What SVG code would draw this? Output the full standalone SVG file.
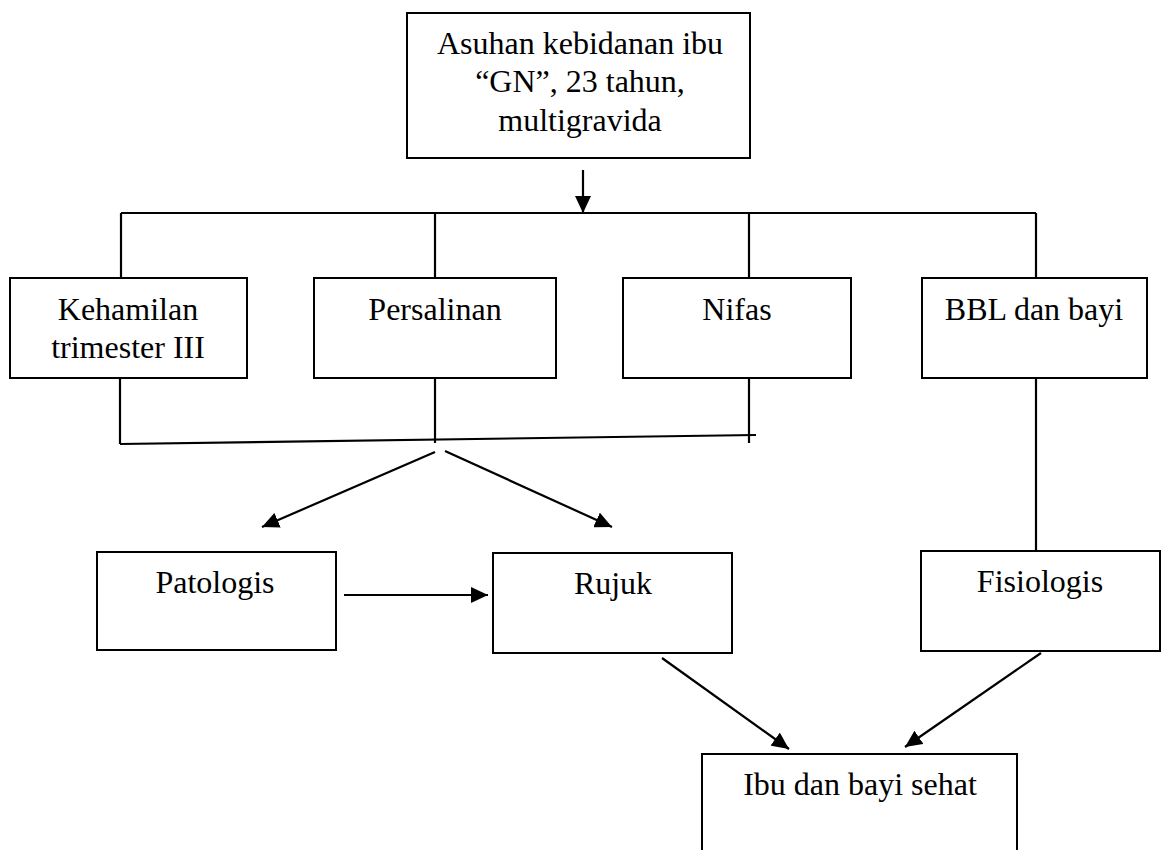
<svg xmlns="http://www.w3.org/2000/svg" width="1168" height="850" viewBox="0 0 1168 850">
<style>
.box{fill:#fff;stroke:#000;stroke-width:2}
.t{font-family:"Liberation Serif","Times New Roman",serif;font-size:32px;fill:#000;text-anchor:middle}
.ln{stroke:#000;stroke-width:2.2;fill:none}
</style>
<defs>
<marker id="ah" markerWidth="17" markerHeight="16" refX="17" refY="8" orient="auto" markerUnits="userSpaceOnUse">
<path d="M0,0 L17,8 L0,16 Z" fill="#000"/>
</marker>
</defs>
<rect width="1168" height="850" fill="#fff"/>
<g id="connectors">
<line class="ln" x1="583" y1="170" x2="583" y2="213" marker-end="url(#ah)"/>
<line class="ln" x1="121" y1="213" x2="1036" y2="213"/>
<line class="ln" x1="121" y1="213" x2="121" y2="278"/>
<line class="ln" x1="435" y1="213" x2="435" y2="278"/>
<line class="ln" x1="749" y1="213" x2="749" y2="278"/>
<line class="ln" x1="1036" y1="213" x2="1036" y2="278"/>
<line class="ln" x1="120" y1="378" x2="120" y2="444"/>
<line class="ln" x1="435" y1="378" x2="435" y2="443"/>
<line class="ln" x1="749" y1="378" x2="749" y2="443"/>
<line class="ln" x1="120" y1="444" x2="756" y2="435"/>
<line class="ln" x1="435" y1="452" x2="262" y2="527" marker-end="url(#ah)"/>
<line class="ln" x1="445" y1="451" x2="612" y2="527" marker-end="url(#ah)"/>
<line class="ln" x1="1036" y1="378" x2="1036" y2="551"/>
<line class="ln" x1="344" y1="595" x2="488" y2="595" marker-end="url(#ah)"/>
<line class="ln" x1="662" y1="658" x2="789" y2="749" marker-end="url(#ah)"/>
<line class="ln" x1="1041" y1="653" x2="905" y2="747" marker-end="url(#ah)"/>
</g>
<g id="node-asuhan">
<rect class="box" x="407" y="13" width="343" height="145"/>
<text class="t" x="580" y="54">Asuhan kebidanan ibu</text>
<text class="t" x="580" y="92">“GN”, 23 tahun,</text>
<text class="t" x="580" y="131">multigravida</text>
</g>
<g id="node-kehamilan">
<rect class="box" x="10" y="278" width="237" height="100"/>
<text class="t" x="128" y="320">Kehamilan</text>
<text class="t" x="128" y="358">trimester III</text>
</g>
<g id="node-persalinan">
<rect class="box" x="314" y="278" width="242" height="100"/>
<text class="t" x="435" y="320">Persalinan</text>
</g>
<g id="node-nifas">
<rect class="box" x="623" y="278" width="228" height="100"/>
<text class="t" x="737" y="320">Nifas</text>
</g>
<g id="node-bbl">
<rect class="box" x="922" y="278" width="225" height="100"/>
<text class="t" x="1034" y="320">BBL dan bayi</text>
</g>
<g id="node-patologis">
<rect class="box" x="97" y="552" width="239" height="98"/>
<text class="t" x="215" y="593">Patologis</text>
</g>
<g id="node-rujuk">
<rect class="box" x="493" y="553" width="239" height="100"/>
<text class="t" x="613" y="594">Rujuk</text>
</g>
<g id="node-fisiologis">
<rect class="box" x="921" y="551" width="239" height="100"/>
<text class="t" x="1040" y="592">Fisiologis</text>
</g>
<g id="node-sehat">
<rect class="box" x="702" y="754" width="315" height="110"/>
<text class="t" x="860" y="795">Ibu dan bayi sehat</text>
</g>
</svg>
